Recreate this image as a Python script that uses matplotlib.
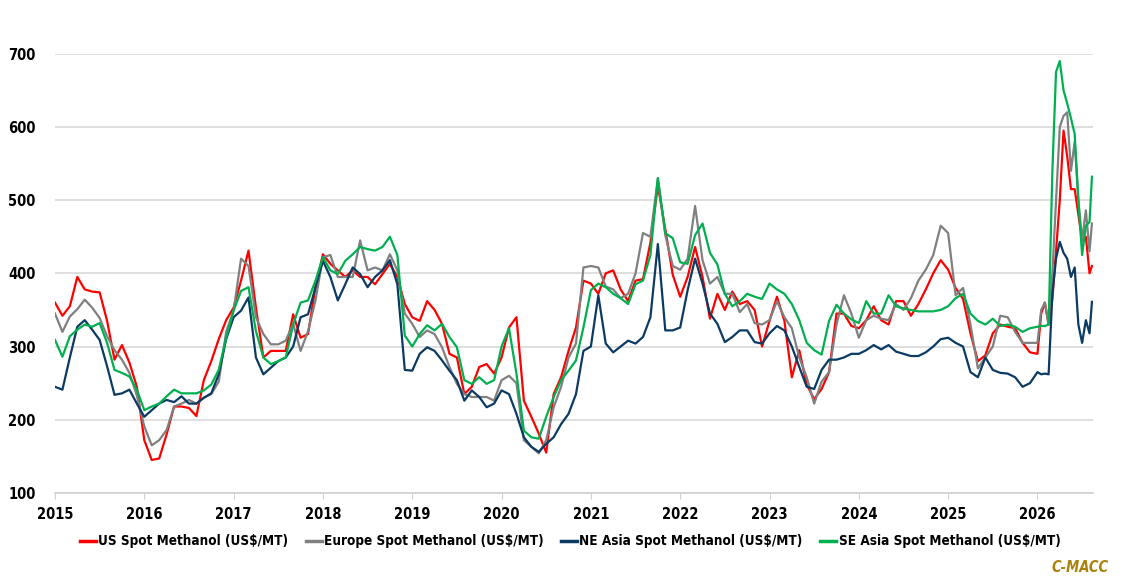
import numpy as np
import matplotlib.pyplot as plt
from matplotlib import font_manager

# time axis: monthly to end-2025, then half-monthly in 2026
t_monthly = 2015 + np.arange(132) / 12
t_2026 = [2026.0, 2026.042, 2026.083, 2026.125, 2026.167, 2026.208, 2026.25, 2026.292,
          2026.333, 2026.375, 2026.417, 2026.458, 2026.5, 2026.542, 2026.583, 2026.61]
t = np.concatenate([t_monthly, t_2026])

us = [
    360, 342, 355, 395, 378, 375, 374, 335, 282, 302, 278, 245,   # 2015
    172, 145, 147, 180, 218, 218, 216, 205, 254, 280, 310, 336,   # 2016
    353, 390, 431, 353, 285, 294, 294, 294, 344, 312, 317, 381,   # 2017
    426, 413, 404, 395, 404, 395, 395, 385, 399, 413, 395, 358,   # 2018
    340, 335, 362, 350, 331, 290, 285, 235, 245, 272, 276, 263,   # 2019
    285, 326, 340, 226, 204, 181, 155, 235, 258, 294, 326, 390,   # 2020
    386, 372, 400, 404, 378, 362, 390, 392, 442, 520, 460, 398,   # 2021
    368, 395, 436, 395, 338, 372, 350, 375, 358, 362, 350, 300,   # 2022
    335, 368, 335, 258, 295, 248, 228, 242, 265, 345, 345, 328,   # 2023
    325, 336, 355, 336, 330, 362, 362, 342, 358, 378, 400, 418,   # 2024
    405, 380, 365, 318, 280, 288, 318, 330, 327, 325, 305, 292,   # 2025
    290, 345, 360, 330, 365, 430, 500, 595, 560, 515, 515, 480, 445, 450, 400, 410]
europe = [
    345, 320, 341, 351, 364, 353, 339, 314, 295, 282, 264, 233,
    191, 165, 172, 186, 218, 222, 227, 222, 230, 235, 252, 320,
    349, 420, 410, 340, 317, 303, 303, 308, 331, 294, 321, 363,
    422, 425, 395, 395, 395, 445, 404, 408, 404, 426, 404, 345,
    331, 313, 322, 317, 299, 272, 249, 235, 231, 231, 231, 226,
    254, 260, 250, 172, 163, 154, 172, 217, 245, 285, 304, 408,
    410, 408, 382, 378, 366, 372, 400, 455, 450, 530, 452, 410,
    405, 420, 492, 418, 386, 395, 372, 372, 347, 358, 332, 330,
    336, 362, 340, 325, 285, 258, 222, 252, 265, 330, 370, 345,
    312, 336, 342, 338, 336, 358, 350, 366, 390, 405, 425, 465,
    455, 370, 380, 330, 270, 285, 300, 342, 340, 320, 305, 305,
    305, 350, 360, 330, 400, 500, 600, 615, 620, 540, 580, 500, 445, 486, 430, 468]
ne_asia = [
    245, 241, 285, 327, 336, 323, 309, 273, 234, 236, 241, 222,
    204, 213, 222, 227, 224, 232, 222, 222, 230, 236, 262, 310,
    340, 349, 367, 285, 262, 271, 280, 285, 300, 340, 344, 381,
    417, 395, 363, 385, 408, 399, 381, 395, 404, 418, 385, 268,
    267, 290, 299, 294, 281, 267, 254, 226, 240, 231, 217, 222,
    240, 235, 208, 176, 163, 156, 167, 176, 194, 208, 235, 294,
    300, 370, 304, 292, 300, 308, 304, 313, 340, 440, 322, 322,
    326, 377, 420, 386, 345, 331, 306, 313, 322, 322, 306, 304,
    318, 328, 322, 300, 272, 245, 242, 268, 282, 282, 285, 290,
    290, 295, 302, 296, 302, 293, 290, 287, 287, 292, 300, 310,
    312, 305, 300, 265, 258, 285, 268, 264, 263, 258, 245, 250,
    265, 262, 263, 262, 372, 420, 443, 428, 420, 395, 408, 330, 305, 336, 318, 361]
se_asia = [
    309, 286, 314, 323, 330, 327, 332, 305, 268, 264, 259, 241,
    213, 218, 222, 232, 241, 236, 236, 236, 240, 248, 268, 312,
    349, 376, 381, 321, 285, 276, 280, 285, 330, 360, 363, 390,
    422, 404, 399, 417, 426, 436, 433, 431, 436, 450, 425, 315,
    300, 317, 329, 322, 331, 313, 299, 254, 249, 258, 249, 254,
    300, 325, 263, 185, 176, 174, 204, 231, 254, 267, 281, 326,
    377, 386, 381, 372, 366, 358, 385, 390, 425, 530, 455, 448,
    415, 413, 452, 468, 428, 412, 372, 355, 362, 372, 368, 365,
    386, 378, 372, 358, 336, 305, 295, 289, 335, 357, 345, 337,
    332, 362, 345, 345, 370, 355, 352, 350, 348, 348, 348, 350,
    355, 366, 372, 345, 335, 330, 338, 328, 330, 327, 320, 325,
    327, 328, 328, 330, 540, 675, 690, 650, 632, 612, 590, 500, 425, 465, 470, 532]

labels = ['US Spot Methanol (US$/MT)', 'Europe Spot Methanol (US$/MT)',
          'NE Asia Spot Methanol (US$/MT)', 'SE Asia Spot Methanol (US$/MT)']
colors = ['#ff0000', '#808080', '#0b3a62', '#00b050']
years = list(range(2015, 2027))
yticks = [100, 200, 300, 400, 500, 600, 700]

# narrow font like the original (Calibri-ish), whatever is available
fonts = font_manager.fontManager.ttflist
names = {f.name for f in fonts}
condensed = any(f.name == 'DejaVu Sans' and 'condensed' in str(f.stretch) for f in fonts)
if 'Liberation Sans Narrow' in names:
    plt.rcParams['font.family'] = ['Liberation Sans Narrow', 'DejaVu Sans']
    fs = 11
elif condensed:
    plt.rcParams['font.family'] = ['DejaVu Sans']
    plt.rcParams['font.stretch'] = 'condensed'
    fs = 10
else:
    plt.rcParams['font.family'] = ['DejaVu Sans']
    fs = 9

fig = plt.figure(figsize=(11.22, 5.84), dpi=100)
ax = fig.add_axes([0.049, 0.156, 0.925, 0.752])

for series, lab, col in zip([us, europe, ne_asia, se_asia], labels, colors):
    ax.plot(t, series, color=col, lw=1.6, label=lab, solid_joinstyle='round')

ax.set_xlim(2015, 2026.62)
ax.set_ylim(100, 700)
ax.set_xticks(years)
ax.set_xticklabels([str(y) for y in years], fontsize=fs + 0.5, fontweight='bold')
ax.set_yticks(yticks)
ax.set_yticklabels([str(v) for v in yticks], fontsize=fs + 0.5, fontweight='bold')
ax.grid(axis='y', color='#d9d9d9', lw=1.2)
ax.set_axisbelow(True)
for s in ['top', 'right', 'left']:
    ax.spines[s].set_visible(False)
ax.spines['bottom'].set_color('#d0d0d0')
ax.spines['bottom'].set_linewidth(1.2)
ax.tick_params(axis='y', length=0, pad=14)
ax.tick_params(axis='x', direction='out', length=4, color='#d0d0d0', pad=6)

leg = fig.legend(loc='center', bbox_to_anchor=(0.508, 0.073), ncol=4, frameon=False,
                 handlelength=1.2, handletextpad=0.15, columnspacing=1.3,
                 prop={'size': fs * 0.975, 'weight': 'bold'})
for line in leg.get_lines():
    line.set_linewidth(2.5)

fig.text(0.988, 0.028, 'C-MACC', color='#a8820a', fontsize=fs + 0.5, fontweight='bold',
         fontstyle='italic', ha='right', va='center')

fig.savefig('out.png', dpi=100)
